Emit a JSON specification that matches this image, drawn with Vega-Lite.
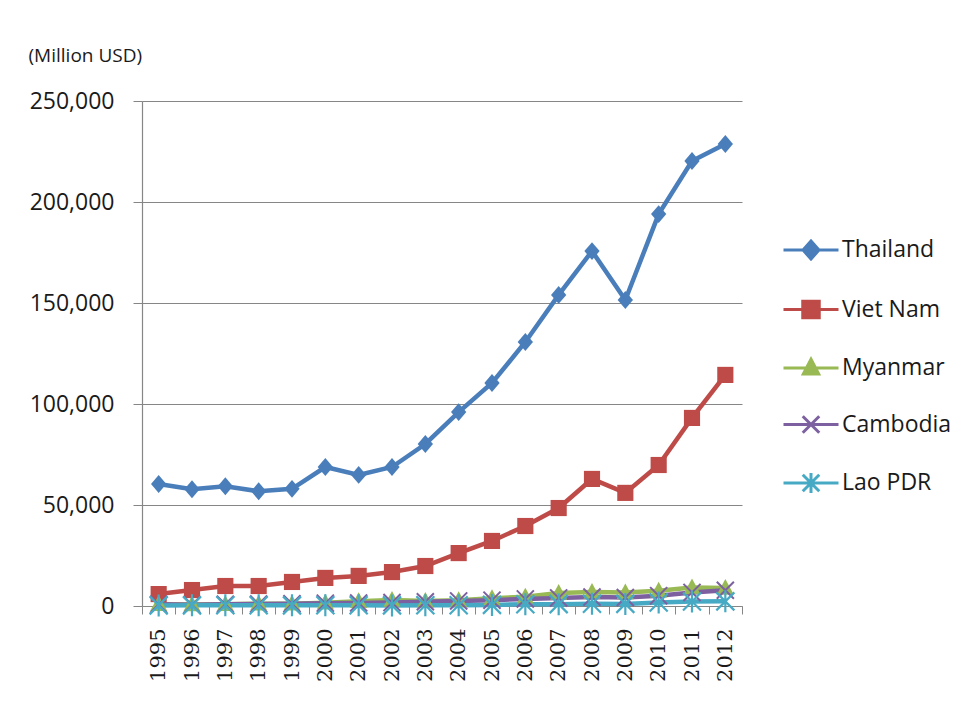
{
  "$schema": "https://vega.github.io/schema/vega-lite/v6.json",
  "width": 600,
  "height": 505,
  "autosize": "none",
  "padding": {"left": 142, "top": 101, "right": 219, "bottom": 96},
  "background": "white",
  "config": {
    "font": "Open Sans",
    "view": {"stroke": null},
    "axis": {"domainColor": "#868686", "tickColor": "#868686", "gridColor": "#868686", "labelColor": "#1a1a1a", "titleColor": "#1a1a1a"}
  },
  "data": {
    "values": [
      {"year": "1995", "series": "Thailand", "value": 60400},
      {"year": "1996", "series": "Thailand", "value": 57800},
      {"year": "1997", "series": "Thailand", "value": 59300},
      {"year": "1998", "series": "Thailand", "value": 56800},
      {"year": "1999", "series": "Thailand", "value": 58000},
      {"year": "2000", "series": "Thailand", "value": 68800},
      {"year": "2001", "series": "Thailand", "value": 64900},
      {"year": "2002", "series": "Thailand", "value": 68800},
      {"year": "2003", "series": "Thailand", "value": 80200},
      {"year": "2004", "series": "Thailand", "value": 96000},
      {"year": "2005", "series": "Thailand", "value": 110400},
      {"year": "2006", "series": "Thailand", "value": 130700},
      {"year": "2007", "series": "Thailand", "value": 154000},
      {"year": "2008", "series": "Thailand", "value": 175700},
      {"year": "2009", "series": "Thailand", "value": 151500},
      {"year": "2010", "series": "Thailand", "value": 194000},
      {"year": "2011", "series": "Thailand", "value": 220300},
      {"year": "2012", "series": "Thailand", "value": 228700},
      {"year": "1995", "series": "Viet Nam", "value": 5900},
      {"year": "1996", "series": "Viet Nam", "value": 7900},
      {"year": "1997", "series": "Viet Nam", "value": 9900},
      {"year": "1998", "series": "Viet Nam", "value": 9900},
      {"year": "1999", "series": "Viet Nam", "value": 11900},
      {"year": "2000", "series": "Viet Nam", "value": 13900},
      {"year": "2001", "series": "Viet Nam", "value": 14900},
      {"year": "2002", "series": "Viet Nam", "value": 16800},
      {"year": "2003", "series": "Viet Nam", "value": 19800},
      {"year": "2004", "series": "Viet Nam", "value": 26200},
      {"year": "2005", "series": "Viet Nam", "value": 32200},
      {"year": "2006", "series": "Viet Nam", "value": 39600},
      {"year": "2007", "series": "Viet Nam", "value": 48500},
      {"year": "2008", "series": "Viet Nam", "value": 62900},
      {"year": "2009", "series": "Viet Nam", "value": 56000},
      {"year": "2010", "series": "Viet Nam", "value": 69800},
      {"year": "2011", "series": "Viet Nam", "value": 93100},
      {"year": "2012", "series": "Viet Nam", "value": 114400},
      {"year": "1995", "series": "Myanmar", "value": 850},
      {"year": "1996", "series": "Myanmar", "value": 750},
      {"year": "1997", "series": "Myanmar", "value": 870},
      {"year": "1998", "series": "Myanmar", "value": 1070},
      {"year": "1999", "series": "Myanmar", "value": 1140},
      {"year": "2000", "series": "Myanmar", "value": 1650},
      {"year": "2001", "series": "Myanmar", "value": 2400},
      {"year": "2002", "series": "Myanmar", "value": 3000},
      {"year": "2003", "series": "Myanmar", "value": 2500},
      {"year": "2004", "series": "Myanmar", "value": 2900},
      {"year": "2005", "series": "Myanmar", "value": 3800},
      {"year": "2006", "series": "Myanmar", "value": 4600},
      {"year": "2007", "series": "Myanmar", "value": 6400},
      {"year": "2008", "series": "Myanmar", "value": 6900},
      {"year": "2009", "series": "Myanmar", "value": 6700},
      {"year": "2010", "series": "Myanmar", "value": 7600},
      {"year": "2011", "series": "Myanmar", "value": 9100},
      {"year": "2012", "series": "Myanmar", "value": 8900},
      {"year": "1995", "series": "Cambodia", "value": 850},
      {"year": "1996", "series": "Cambodia", "value": 650},
      {"year": "1997", "series": "Cambodia", "value": 860},
      {"year": "1998", "series": "Cambodia", "value": 1000},
      {"year": "1999", "series": "Cambodia", "value": 1130},
      {"year": "2000", "series": "Cambodia", "value": 1400},
      {"year": "2001", "series": "Cambodia", "value": 1500},
      {"year": "2002", "series": "Cambodia", "value": 1700},
      {"year": "2003", "series": "Cambodia", "value": 2100},
      {"year": "2004", "series": "Cambodia", "value": 2500},
      {"year": "2005", "series": "Cambodia", "value": 2900},
      {"year": "2006", "series": "Cambodia", "value": 3500},
      {"year": "2007", "series": "Cambodia", "value": 4000},
      {"year": "2008", "series": "Cambodia", "value": 4400},
      {"year": "2009", "series": "Cambodia", "value": 4200},
      {"year": "2010", "series": "Cambodia", "value": 5100},
      {"year": "2011", "series": "Cambodia", "value": 6700},
      {"year": "2012", "series": "Cambodia", "value": 7800},
      {"year": "1995", "series": "Lao PDR", "value": 300},
      {"year": "1996", "series": "Lao PDR", "value": 320},
      {"year": "1997", "series": "Lao PDR", "value": 360},
      {"year": "1998", "series": "Lao PDR", "value": 340},
      {"year": "1999", "series": "Lao PDR", "value": 310},
      {"year": "2000", "series": "Lao PDR", "value": 330},
      {"year": "2001", "series": "Lao PDR", "value": 330},
      {"year": "2002", "series": "Lao PDR", "value": 300},
      {"year": "2003", "series": "Lao PDR", "value": 380},
      {"year": "2004", "series": "Lao PDR", "value": 360},
      {"year": "2005", "series": "Lao PDR", "value": 550},
      {"year": "2006", "series": "Lao PDR", "value": 880},
      {"year": "2007", "series": "Lao PDR", "value": 920},
      {"year": "2008", "series": "Lao PDR", "value": 1100},
      {"year": "2009", "series": "Lao PDR", "value": 1050},
      {"year": "2010", "series": "Lao PDR", "value": 1750},
      {"year": "2011", "series": "Lao PDR", "value": 2200},
      {"year": "2012", "series": "Lao PDR", "value": 2300}
    ]
  },
  "encoding": {
    "x": {
      "field": "year",
      "type": "ordinal",
      "scale": {"type": "band", "paddingInner": 0, "paddingOuter": 0},
      "axis": {
        "title": null,
        "labelAngle": -90,
        "labelAlign": "right",
        "labelBaseline": "middle",
        "labelFont": "DejaVu Serif",
        "labelFontSize": 21,
        "labelPadding": 14,
        "tickBand": "extent",
        "tickSize": 8,
        "tickWidth": 1,
        "domainWidth": 1.2
      }
    },
    "y": {
      "field": "value",
      "type": "quantitative",
      "scale": {"domain": [0, 250000], "nice": false},
      "axis": {
        "values": [0, 50000, 100000, 150000, 200000, 250000],
        "format": ",d",
        "labelFontSize": 23,
        "labelPadding": 19,
        "tickSize": 9,
        "gridWidth": 1,
        "domainWidth": 1.2,
        "title": "(Million USD)",
        "titleAngle": 0,
        "titleAlign": "left",
        "titleBaseline": "middle",
        "titleFontSize": 19,
        "titleFontWeight": "normal",
        "titleX": -114,
        "titleY": -46
      }
    }
  },
  "layer": [
    {
      "mark": {"type": "line", "strokeWidth": 4.5},
      "encoding": {
        "color": {
          "field": "series",
          "type": "nominal",
          "sort": ["Thailand", "Viet Nam", "Myanmar", "Cambodia", "Lao PDR"],
          "scale": {
            "domain": ["Thailand", "Viet Nam", "Myanmar", "Cambodia", "Lao PDR"],
            "range": ["#4A7EBB", "#BE4B48", "#98B954", "#7D60A0", "#46AAC5"]
          },
          "legend": {
            "title": null,
            "orient": "none",
            "legendX": 640,
            "legendY": 120,
            "labelFontSize": 23,
            "labelColor": "#1a1a1a",
            "labelOffset": 2,
            "symbolSize": 3025,
            "rowPadding": 14.5,
            "padding": 0,
            "encode": {
              "symbols": {
                "update": {
                  "size": {"value": 3025},
                  "strokeWidth": {"value": 3},
                  "shape": {"signal": "datum.value === 'Thailand' ? 'M -1 0 L 1 0 M 0 -0.33 L 0.29 0 L 0 0.33 L -0.29 0 Z' : datum.value === 'Viet Nam' ? 'M -1 0 L 1 0 M -0.3 -0.3 L 0.3 -0.3 L 0.3 0.3 L -0.3 0.3 Z' : datum.value === 'Myanmar' ? 'M -1 0 L 1 0 M 0 -0.32 L 0.28 0.22 L -0.28 0.22 Z' : datum.value === 'Cambodia' ? 'M -1 0 L 1 0 M -0.3 -0.3 L 0.3 0.3 M -0.3 0.3 L 0.3 -0.3' : 'M -1 0 L 1 0 M -0.3 -0.3 L 0.3 0.3 M -0.3 0.3 L 0.3 -0.3 M 0 -0.36 L 0 0.36'"},
                  "fill": {"signal": "datum.value === 'Thailand' ? '#4A7EBB' : datum.value === 'Viet Nam' ? '#BE4B48' : datum.value === 'Myanmar' ? '#98B954' : datum.value === 'Cambodia' ? '#7D60A0' : '#46AAC5'"},
                  "stroke": {"signal": "datum.value === 'Thailand' ? '#4A7EBB' : datum.value === 'Viet Nam' ? '#BE4B48' : datum.value === 'Myanmar' ? '#98B954' : datum.value === 'Cambodia' ? '#7D60A0' : '#46AAC5'"},
                  "opacity": {"value": 1}
                }
              }
            }
          }
        }
      }
    },
    {
      "transform": [{"filter": "datum.series === 'Thailand'"}],
      "mark": {"type": "point", "filled": true, "size": 289, "strokeWidth": 1.5, "opacity": 1, "color": "#4A7EBB", "shape": "M 0 -1.05 L 0.9 0 L 0 1.05 L -0.9 0 Z"}
    },
    {
      "transform": [{"filter": "datum.series === 'Viet Nam'"}],
      "mark": {"type": "point", "filled": true, "size": 289, "strokeWidth": 1.5, "opacity": 1, "color": "#BE4B48", "shape": "M -0.95 -0.95 L 0.95 -0.95 L 0.95 0.95 L -0.95 0.95 Z"}
    },
    {
      "transform": [{"filter": "datum.series === 'Myanmar'"}],
      "mark": {"type": "point", "filled": true, "size": 324, "strokeWidth": 1.5, "opacity": 1, "color": "#98B954", "shape": "M 0 -1 L 0.95 0.75 L -0.95 0.75 Z"}
    },
    {
      "transform": [{"filter": "datum.series === 'Cambodia'"}],
      "mark": {"type": "point", "filled": false, "size": 361, "strokeWidth": 2, "opacity": 1, "color": "#7D60A0", "shape": "M -0.9 -0.9 L 0.9 0.9 M -0.9 0.9 L 0.9 -0.9"}
    },
    {
      "transform": [{"filter": "datum.series === 'Lao PDR'"}],
      "mark": {"type": "point", "filled": false, "size": 400, "strokeWidth": 2.2, "opacity": 1, "color": "#46AAC5", "shape": "M -0.9 -0.9 L 0.9 0.9 M -0.9 0.9 L 0.9 -0.9 M 0 -1.1 L 0 1.1"}
    }
  ]
}
